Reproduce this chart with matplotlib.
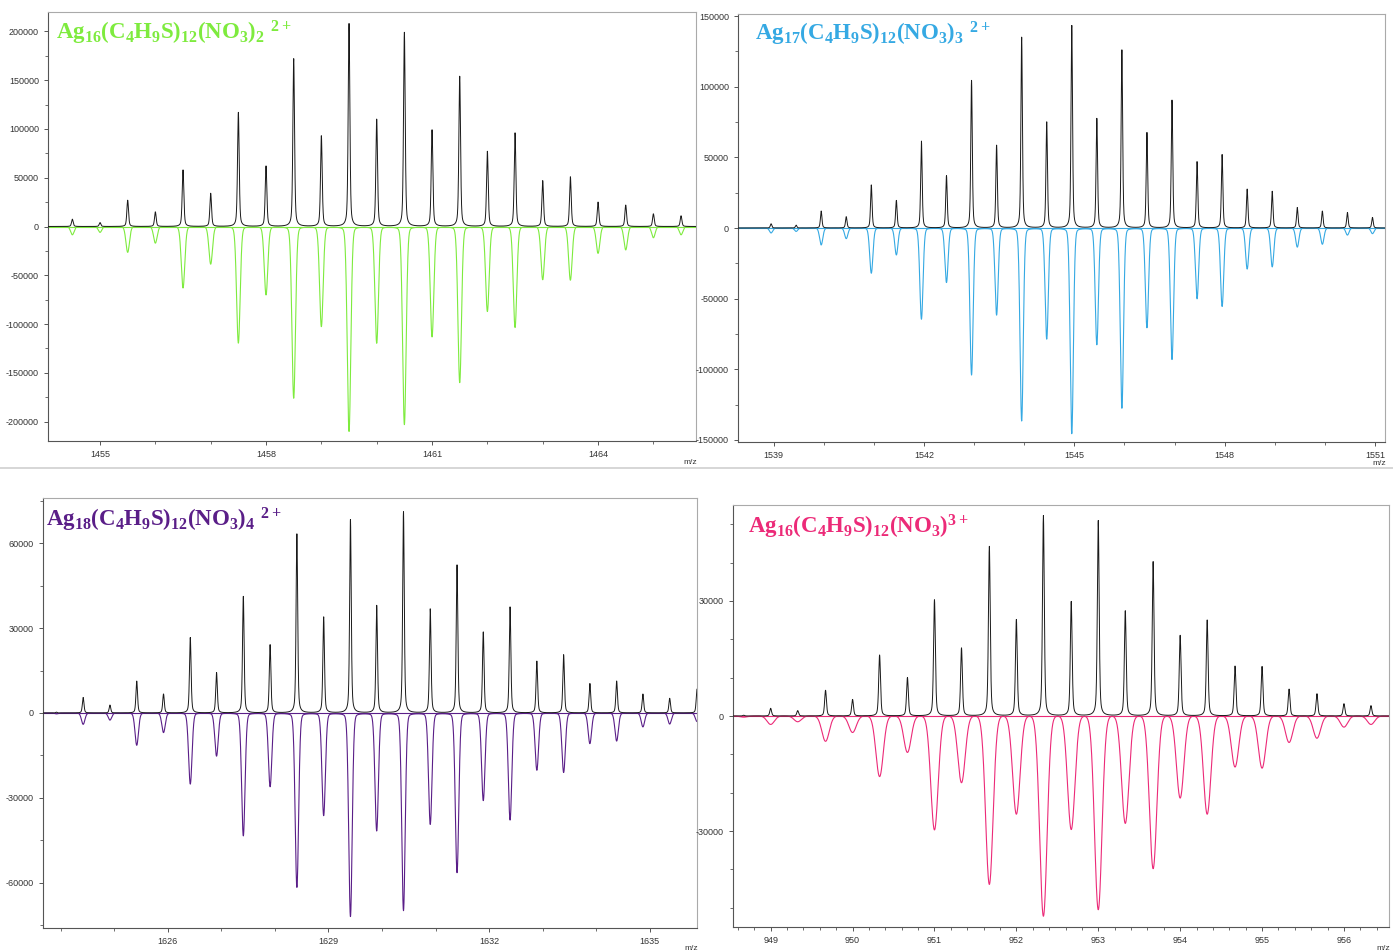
import numpy as np
import matplotlib
matplotlib.use("Agg")
import matplotlib.pyplot as plt
from matplotlib.lines import Line2D
from matplotlib.ticker import MultipleLocator

plt.rcParams.update({
    "font.family": "Liberation Sans",
    "mathtext.fontset": "custom",
    "mathtext.rm": "Liberation Serif:bold",
    "mathtext.it": "Liberation Serif:bold",
    "mathtext.bf": "Liberation Serif:bold",
})

W, H = 1393, 951

# ---- panel 1: Ag16(C4H9S)12(NO3)2 2+ ----
mz1 = [1454.5, 1455.0, 1455.5, 1456.0, 1456.5, 1457.0, 1457.5, 1458.0,
       1458.5, 1459.0, 1459.5, 1460.0, 1460.5, 1461.0, 1461.5, 1462.0,
       1462.5, 1463.0, 1463.5, 1464.0, 1464.5, 1465.0, 1465.5]
exp1 = [7500, 4000, 27000, 15000, 58000, 34000, 117000, 62000, 172000,
        93000, 208000, 110000, 199000, 99000, 154000, 77000, 96000, 47000,
        51000, 25000, 22000, 13000, 11000]
sim1 = [8500, 6000, 26500, 17000, 63000, 38500, 119500, 70000, 176000,
        102500, 210000, 119500, 203000, 113000, 160000, 87000, 103500,
        54500, 55000, 27500, 24000, 11500, 8500]

# ---- panel 2: Ag17(C4H9S)12(NO3)3 2+ ----
mz2 = [1538.95, 1539.45, 1539.95, 1540.45, 1540.95, 1541.45, 1541.95,
       1542.45, 1542.95, 1543.45, 1543.95, 1544.45, 1544.95, 1545.45,
       1545.95, 1546.45, 1546.95, 1547.45, 1547.95, 1548.45, 1548.95,
       1549.45, 1549.95, 1550.45, 1550.95]
exp2 = [3000, 2000, 12000, 8000, 30500, 19500, 61500, 37000, 104500, 58500,
        135000, 75000, 143500, 77500, 126000, 67500, 90500, 47000, 52000,
        27500, 26000, 14500, 12000, 11000, 7500]
sim2 = [3500, 2400, 12000, 7500, 32000, 19000, 64500, 38500, 104000, 61500,
        136500, 78500, 145500, 82500, 127500, 70500, 93000, 50000, 55500,
        29000, 27500, 13500, 11500, 5000, 4000]

# ---- panel 3: Ag18(C4H9S)12(NO3)4 2+ ----
mz3 = [1623.92, 1624.42, 1624.92, 1625.42, 1625.92, 1626.42, 1626.91,
       1627.41, 1627.91, 1628.41, 1628.91, 1629.41, 1629.90, 1630.40,
       1630.90, 1631.40, 1631.89, 1632.39, 1632.89, 1633.39, 1633.88,
       1634.38, 1634.87, 1635.37, 1635.88]
exp3 = [300, 5500, 2800, 11300, 6700, 26700, 14300, 41200, 24100, 63300,
        33900, 68400, 38000, 71100, 36800, 52300, 28600, 37500, 18300,
        20600, 10400, 11300, 6700, 5200, 8400]
sim3 = [300, 4000, 2500, 11400, 6900, 25100, 15200, 43400, 26000, 61600,
        36200, 71900, 41600, 69800, 39300, 56400, 30900, 37800, 20200,
        21000, 10800, 9900, 4900, 3900, 3000]

# ---- panel 4: Ag16(C4H9S)12(NO3) 3+ ----
mz4 = [948.67, 949.00, 949.33, 949.67, 950.00, 950.33, 950.67, 951.00,
       951.33, 951.67, 952.00, 952.33, 952.67, 953.00, 953.33, 953.67,
       954.00, 954.33, 954.67, 955.00, 955.33, 955.67, 956.00, 956.33]
exp4 = [200, 2000, 1400, 6700, 4300, 15900, 10000, 30300, 17700, 44200,
        25100, 52200, 29800, 50900, 27400, 40200, 21000, 25000, 13000,
        12900, 7000, 5800, 3200, 2700]
sim4 = [300, 2200, 1500, 6600, 4300, 15800, 9500, 29700, 17400, 43900,
        25600, 52200, 29600, 50500, 28000, 39800, 21400, 25600, 13300,
        13600, 6900, 5800, 2900, 2200]

titles = [
    r"$\mathrm{Ag_{16}(C_4H_9S)_{12}(NO_3)_2\ {}^{2+}}$",
    r"$\mathrm{Ag_{17}(C_4H_9S)_{12}(NO_3)_3\ {}^{2+}}$",
    r"$\mathrm{Ag_{18}(C_4H_9S)_{12}(NO_3)_4\ {}^{2+}}$",
    r"$\mathrm{Ag_{16}(C_4H_9S)_{12}(NO_3)^{3+}}$",
]
colors = ["#7EEB3E", "#35A9E3", "#5A1E88", "#EC2A78"]


def profile(x, centers, heights, width, frac_lor):
    # pseudo-Voigt peak shape
    y = np.zeros_like(x)
    for c, h in zip(centers, heights):
        g = np.exp(-0.5 * ((x - c) / width) ** 2)
        lo = 1.0 / (1.0 + ((x - c) / (1.1774 * width)) ** 2)
        y += h * ((1 - frac_lor) * g + frac_lor * lo)
    return y


panels = [
    dict(rect=(48, 12, 696, 441), xlim=(1454.06, 1465.77), ylim=(-220000, 220000),
         mz=mz1, exp=exp1, sim=sim1, wexp=0.015, wsim=0.032, lsim=0.1,
         xmaj=3, xmin=1, xfirst=1455, ymaj=50000, ymin=25000, tx=8, ty=21),
    dict(rect=(738, 14, 1385, 442), xlim=(1538.29, 1551.2), ylim=(-151500, 151500),
         mz=mz2, exp=exp2, sim=sim2, wexp=0.015, wsim=0.032, lsim=0.1,
         xmaj=3, xmin=1, xfirst=1539, ymaj=50000, ymin=25000, tx=17, ty=20),
    dict(rect=(43, 498, 697, 928), xlim=(1623.67, 1635.88), ylim=(-76000, 76000),
         mz=mz3, exp=exp3, sim=sim3, wexp=0.015, wsim=0.032, lsim=0.1,
         xmaj=3, xmin=1, xfirst=1626, ymaj=30000, ymin=15000, tx=3, ty=22),
    dict(rect=(733, 505, 1389, 927), xlim=(948.54, 956.55), ylim=(-55000, 55000),
         mz=mz4, exp=exp4, sim=sim4, wexp=0.011, wsim=0.045, lsim=0.0,
         xmaj=1, xmin=0.2, xfirst=949, ymaj=30000, ymin=10000, tx=15, ty=22),
]

fig = plt.figure(figsize=(W / 100, H / 100), dpi=100)
fig.patch.set_facecolor("white")

for p, title, col in zip(panels, titles, colors):
    l, t, r, b = p["rect"]
    ax = fig.add_axes([l / W, 1 - b / H, (r - l) / W, (b - t) / H])
    x = np.linspace(p["xlim"][0], p["xlim"][1], 8000)
    y_sim = -profile(x, p["mz"], p["sim"], p["wsim"], p["lsim"])
    y_exp = profile(x, p["mz"], p["exp"], p["wexp"], 0.45)
    ax.plot(x, y_sim, color=col, lw=0.8, zorder=2)
    ax.plot(x, y_exp, color="#1a1a1a", lw=0.7, zorder=3)
    ax.axhline(0, color=col, lw=0.8, zorder=1)
    ax.set_xlim(p["xlim"])
    ax.set_ylim(p["ylim"])

    ax.xaxis.set_major_locator(MultipleLocator(p["xmaj"]))
    ax.xaxis.set_minor_locator(MultipleLocator(p["xmin"]))
    ax.yaxis.set_major_locator(MultipleLocator(p["ymaj"]))
    ax.yaxis.set_minor_locator(MultipleLocator(p["ymin"]))
    if p["xmaj"] == 3:
        ax.set_xticks(np.arange(p["xfirst"], p["xlim"][1], 3))
    ax.xaxis.set_major_formatter(plt.FuncFormatter(lambda v, pos: f"{v:.0f}"))
    ax.yaxis.set_major_formatter(plt.FuncFormatter(lambda v, pos: f"{v:.0f}"))
    ax.tick_params(axis="both", which="major", length=3, width=0.7,
                   labelsize=6.5, labelcolor="#333333", color="#555555")
    ax.tick_params(axis="both", which="minor", length=2, width=0.6, color="#555555")
    for s in ("left", "bottom"):
        ax.spines[s].set_color("#555555")
        ax.spines[s].set_linewidth(0.8)
    for s in ("top", "right"):
        ax.spines[s].set_color("#aaaaaa")
        ax.spines[s].set_linewidth(0.8)

    ax.text(p["tx"] / (r - l), 1 - p["ty"] / (b - t), title, transform=ax.transAxes,
            color=col, fontsize=16.5, ha="left", va="center")
    fig.text((r - 6) / W, 1 - (b + 21) / H, "m/z", fontsize=6, color="#333333",
             ha="center", va="center")

fig.add_artist(Line2D([0, 1], [1 - 468 / H, 1 - 468 / H], color="#d0d0d0", lw=1.2))

fig.savefig("out.png", dpi=100)
